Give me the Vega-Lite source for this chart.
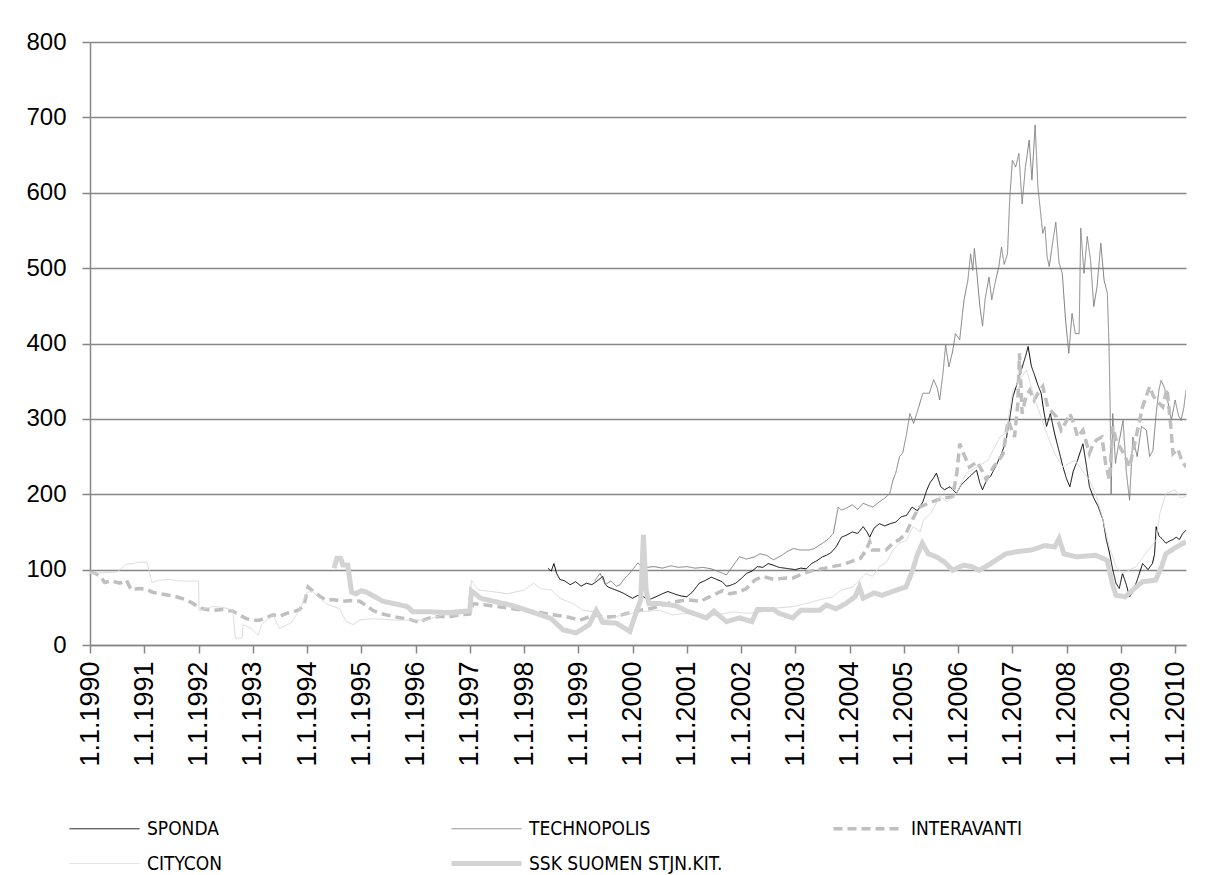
{
"$schema": "https://vega.github.io/schema/vega-lite/v6.json",
"width": 1096, "height": 603,
"autosize": "none",
"padding": {"left": 90, "top": 42, "right": 26, "bottom": 230},
"background": "white",
"config": {"view": {"stroke": null}, "font": "Liberation Sans"},
"data": {"values": [
{"s":"SPONDA","t":1998.44,"v":102},{"s":"SPONDA","t":1998.5,"v":98},{"s":"SPONDA","t":1998.55,"v":108},{"s":"SPONDA","t":1998.6,"v":95},{"s":"SPONDA","t":1998.66,"v":87},{"s":"SPONDA","t":1998.75,"v":85},{"s":"SPONDA","t":1998.85,"v":80},{"s":"SPONDA","t":1998.95,"v":84},{"s":"SPONDA","t":1999.05,"v":78},{"s":"SPONDA","t":1999.15,"v":82},{"s":"SPONDA","t":1999.25,"v":80},{"s":"SPONDA","t":1999.33,"v":84},{"s":"SPONDA","t":1999.4,"v":88},{"s":"SPONDA","t":1999.45,"v":91},{"s":"SPONDA","t":1999.5,"v":80},{"s":"SPONDA","t":1999.55,"v":77},{"s":"SPONDA","t":1999.65,"v":74},{"s":"SPONDA","t":1999.76,"v":71},{"s":"SPONDA","t":1999.85,"v":68},{"s":"SPONDA","t":1999.92,"v":65},{"s":"SPONDA","t":2000.0,"v":62},{"s":"SPONDA","t":2000.1,"v":66},{"s":"SPONDA","t":2000.2,"v":64},{"s":"SPONDA","t":2000.3,"v":60},{"s":"SPONDA","t":2000.43,"v":64},{"s":"SPONDA","t":2000.55,"v":68},{"s":"SPONDA","t":2000.65,"v":71},{"s":"SPONDA","t":2000.8,"v":67},{"s":"SPONDA","t":2000.9,"v":65},{"s":"SPONDA","t":2001.0,"v":64},{"s":"SPONDA","t":2001.1,"v":70},{"s":"SPONDA","t":2001.23,"v":82},{"s":"SPONDA","t":2001.35,"v":86},{"s":"SPONDA","t":2001.45,"v":90},{"s":"SPONDA","t":2001.55,"v":87},{"s":"SPONDA","t":2001.65,"v":84},{"s":"SPONDA","t":2001.73,"v":78},{"s":"SPONDA","t":2001.8,"v":79},{"s":"SPONDA","t":2001.9,"v":82},{"s":"SPONDA","t":2002.0,"v":88},{"s":"SPONDA","t":2002.1,"v":95},{"s":"SPONDA","t":2002.2,"v":98},{"s":"SPONDA","t":2002.3,"v":104},{"s":"SPONDA","t":2002.4,"v":103},{"s":"SPONDA","t":2002.5,"v":108},{"s":"SPONDA","t":2002.59,"v":106},{"s":"SPONDA","t":2002.7,"v":103},{"s":"SPONDA","t":2002.8,"v":102},{"s":"SPONDA","t":2002.9,"v":101},{"s":"SPONDA","t":2003.0,"v":100},{"s":"SPONDA","t":2003.1,"v":102},{"s":"SPONDA","t":2003.2,"v":101},{"s":"SPONDA","t":2003.3,"v":108},{"s":"SPONDA","t":2003.4,"v":112},{"s":"SPONDA","t":2003.5,"v":117},{"s":"SPONDA","t":2003.57,"v":119},{"s":"SPONDA","t":2003.65,"v":122},{"s":"SPONDA","t":2003.75,"v":130},{"s":"SPONDA","t":2003.85,"v":143},{"s":"SPONDA","t":2003.95,"v":146},{"s":"SPONDA","t":2004.05,"v":150},{"s":"SPONDA","t":2004.15,"v":148},{"s":"SPONDA","t":2004.25,"v":157},{"s":"SPONDA","t":2004.32,"v":150},{"s":"SPONDA","t":2004.37,"v":143},{"s":"SPONDA","t":2004.45,"v":155},{"s":"SPONDA","t":2004.55,"v":161},{"s":"SPONDA","t":2004.65,"v":158},{"s":"SPONDA","t":2004.75,"v":161},{"s":"SPONDA","t":2004.85,"v":163},{"s":"SPONDA","t":2004.95,"v":170},{"s":"SPONDA","t":2005.05,"v":172},{"s":"SPONDA","t":2005.15,"v":183},{"s":"SPONDA","t":2005.25,"v":178},{"s":"SPONDA","t":2005.35,"v":190},{"s":"SPONDA","t":2005.42,"v":205},{"s":"SPONDA","t":2005.48,"v":215},{"s":"SPONDA","t":2005.55,"v":222},{"s":"SPONDA","t":2005.6,"v":228},{"s":"SPONDA","t":2005.68,"v":210},{"s":"SPONDA","t":2005.75,"v":206},{"s":"SPONDA","t":2005.85,"v":210},{"s":"SPONDA","t":2005.97,"v":201},{"s":"SPONDA","t":2006.05,"v":212},{"s":"SPONDA","t":2006.15,"v":219},{"s":"SPONDA","t":2006.25,"v":226},{"s":"SPONDA","t":2006.34,"v":232},{"s":"SPONDA","t":2006.4,"v":215},{"s":"SPONDA","t":2006.45,"v":206},{"s":"SPONDA","t":2006.52,"v":218},{"s":"SPONDA","t":2006.6,"v":224},{"s":"SPONDA","t":2006.7,"v":238},{"s":"SPONDA","t":2006.8,"v":254},{"s":"SPONDA","t":2006.88,"v":270},{"s":"SPONDA","t":2006.95,"v":300},{"s":"SPONDA","t":2007.01,"v":329},{"s":"SPONDA","t":2007.1,"v":350},{"s":"SPONDA","t":2007.2,"v":373},{"s":"SPONDA","t":2007.25,"v":385},{"s":"SPONDA","t":2007.29,"v":396},{"s":"SPONDA","t":2007.35,"v":370},{"s":"SPONDA","t":2007.4,"v":360},{"s":"SPONDA","t":2007.47,"v":345},{"s":"SPONDA","t":2007.53,"v":334},{"s":"SPONDA","t":2007.58,"v":310},{"s":"SPONDA","t":2007.63,"v":290},{"s":"SPONDA","t":2007.7,"v":307},{"s":"SPONDA","t":2007.78,"v":280},{"s":"SPONDA","t":2007.85,"v":260},{"s":"SPONDA","t":2007.93,"v":237},{"s":"SPONDA","t":2008.0,"v":220},{"s":"SPONDA","t":2008.06,"v":210},{"s":"SPONDA","t":2008.12,"v":230},{"s":"SPONDA","t":2008.2,"v":245},{"s":"SPONDA","t":2008.3,"v":267},{"s":"SPONDA","t":2008.36,"v":240},{"s":"SPONDA","t":2008.42,"v":210},{"s":"SPONDA","t":2008.5,"v":195},{"s":"SPONDA","t":2008.58,"v":184},{"s":"SPONDA","t":2008.67,"v":166},{"s":"SPONDA","t":2008.73,"v":140},{"s":"SPONDA","t":2008.79,"v":122},{"s":"SPONDA","t":2008.85,"v":100},{"s":"SPONDA","t":2008.91,"v":82},{"s":"SPONDA","t":2008.97,"v":75},{"s":"SPONDA","t":2009.03,"v":95},{"s":"SPONDA","t":2009.1,"v":80},{"s":"SPONDA","t":2009.16,"v":64},{"s":"SPONDA","t":2009.22,"v":70},{"s":"SPONDA","t":2009.3,"v":86},{"s":"SPONDA","t":2009.4,"v":108},{"s":"SPONDA","t":2009.5,"v":100},{"s":"SPONDA","t":2009.58,"v":108},{"s":"SPONDA","t":2009.62,"v":120},{"s":"SPONDA","t":2009.65,"v":157},{"s":"SPONDA","t":2009.7,"v":145},{"s":"SPONDA","t":2009.77,"v":140},{"s":"SPONDA","t":2009.83,"v":135},{"s":"SPONDA","t":2009.9,"v":138},{"s":"SPONDA","t":2009.96,"v":140},{"s":"SPONDA","t":2010.02,"v":143},{"s":"SPONDA","t":2010.08,"v":140},{"s":"SPONDA","t":2010.14,"v":148},{"s":"SPONDA","t":2010.2,"v":152},
{"s":"TECHNOPOLIS","t":1999.3,"v":85},{"s":"TECHNOPOLIS","t":1999.4,"v":95},{"s":"TECHNOPOLIS","t":1999.5,"v":80},{"s":"TECHNOPOLIS","t":1999.6,"v":85},{"s":"TECHNOPOLIS","t":1999.7,"v":78},{"s":"TECHNOPOLIS","t":1999.77,"v":80},{"s":"TECHNOPOLIS","t":1999.85,"v":88},{"s":"TECHNOPOLIS","t":1999.92,"v":93},{"s":"TECHNOPOLIS","t":2000.0,"v":100},{"s":"TECHNOPOLIS","t":2000.1,"v":109},{"s":"TECHNOPOLIS","t":2000.15,"v":105},{"s":"TECHNOPOLIS","t":2000.25,"v":103},{"s":"TECHNOPOLIS","t":2000.4,"v":104},{"s":"TECHNOPOLIS","t":2000.55,"v":102},{"s":"TECHNOPOLIS","t":2000.7,"v":105},{"s":"TECHNOPOLIS","t":2000.85,"v":103},{"s":"TECHNOPOLIS","t":2001.0,"v":104},{"s":"TECHNOPOLIS","t":2001.15,"v":102},{"s":"TECHNOPOLIS","t":2001.3,"v":103},{"s":"TECHNOPOLIS","t":2001.45,"v":101},{"s":"TECHNOPOLIS","t":2001.6,"v":97},{"s":"TECHNOPOLIS","t":2001.73,"v":93},{"s":"TECHNOPOLIS","t":2001.85,"v":105},{"s":"TECHNOPOLIS","t":2001.97,"v":117},{"s":"TECHNOPOLIS","t":2002.1,"v":114},{"s":"TECHNOPOLIS","t":2002.25,"v":117},{"s":"TECHNOPOLIS","t":2002.35,"v":121},{"s":"TECHNOPOLIS","t":2002.47,"v":119},{"s":"TECHNOPOLIS","t":2002.6,"v":113},{"s":"TECHNOPOLIS","t":2002.75,"v":119},{"s":"TECHNOPOLIS","t":2002.85,"v":124},{"s":"TECHNOPOLIS","t":2002.96,"v":128},{"s":"TECHNOPOLIS","t":2003.1,"v":126},{"s":"TECHNOPOLIS","t":2003.25,"v":126},{"s":"TECHNOPOLIS","t":2003.35,"v":128},{"s":"TECHNOPOLIS","t":2003.5,"v":135},{"s":"TECHNOPOLIS","t":2003.6,"v":140},{"s":"TECHNOPOLIS","t":2003.7,"v":148},{"s":"TECHNOPOLIS","t":2003.79,"v":183},{"s":"TECHNOPOLIS","t":2003.85,"v":179},{"s":"TECHNOPOLIS","t":2003.95,"v":182},{"s":"TECHNOPOLIS","t":2004.05,"v":186},{"s":"TECHNOPOLIS","t":2004.15,"v":180},{"s":"TECHNOPOLIS","t":2004.25,"v":188},{"s":"TECHNOPOLIS","t":2004.35,"v":185},{"s":"TECHNOPOLIS","t":2004.43,"v":183},{"s":"TECHNOPOLIS","t":2004.55,"v":190},{"s":"TECHNOPOLIS","t":2004.65,"v":195},{"s":"TECHNOPOLIS","t":2004.74,"v":201},{"s":"TECHNOPOLIS","t":2004.8,"v":219},{"s":"TECHNOPOLIS","t":2004.85,"v":228},{"s":"TECHNOPOLIS","t":2004.92,"v":250},{"s":"TECHNOPOLIS","t":2004.98,"v":255},{"s":"TECHNOPOLIS","t":2005.05,"v":280},{"s":"TECHNOPOLIS","t":2005.11,"v":307},{"s":"TECHNOPOLIS","t":2005.18,"v":294},{"s":"TECHNOPOLIS","t":2005.25,"v":310},{"s":"TECHNOPOLIS","t":2005.35,"v":334},{"s":"TECHNOPOLIS","t":2005.47,"v":334},{"s":"TECHNOPOLIS","t":2005.55,"v":352},{"s":"TECHNOPOLIS","t":2005.62,"v":340},{"s":"TECHNOPOLIS","t":2005.66,"v":325},{"s":"TECHNOPOLIS","t":2005.72,"v":360},{"s":"TECHNOPOLIS","t":2005.77,"v":398},{"s":"TECHNOPOLIS","t":2005.83,"v":369},{"s":"TECHNOPOLIS","t":2005.9,"v":390},{"s":"TECHNOPOLIS","t":2005.95,"v":413},{"s":"TECHNOPOLIS","t":2006.03,"v":405},{"s":"TECHNOPOLIS","t":2006.08,"v":440},{"s":"TECHNOPOLIS","t":2006.11,"v":458},{"s":"TECHNOPOLIS","t":2006.18,"v":484},{"s":"TECHNOPOLIS","t":2006.23,"v":519},{"s":"TECHNOPOLIS","t":2006.27,"v":497},{"s":"TECHNOPOLIS","t":2006.3,"v":526},{"s":"TECHNOPOLIS","t":2006.35,"v":490},{"s":"TECHNOPOLIS","t":2006.4,"v":450},{"s":"TECHNOPOLIS","t":2006.45,"v":423},{"s":"TECHNOPOLIS","t":2006.5,"v":460},{"s":"TECHNOPOLIS","t":2006.57,"v":488},{"s":"TECHNOPOLIS","t":2006.62,"v":458},{"s":"TECHNOPOLIS","t":2006.68,"v":480},{"s":"TECHNOPOLIS","t":2006.75,"v":502},{"s":"TECHNOPOLIS","t":2006.8,"v":528},{"s":"TECHNOPOLIS","t":2006.85,"v":505},{"s":"TECHNOPOLIS","t":2006.91,"v":519},{"s":"TECHNOPOLIS","t":2006.95,"v":590},{"s":"TECHNOPOLIS","t":2007.0,"v":643},{"s":"TECHNOPOLIS","t":2007.06,"v":634},{"s":"TECHNOPOLIS","t":2007.12,"v":652},{"s":"TECHNOPOLIS","t":2007.18,"v":585},{"s":"TECHNOPOLIS","t":2007.24,"v":634},{"s":"TECHNOPOLIS","t":2007.31,"v":670},{"s":"TECHNOPOLIS","t":2007.36,"v":617},{"s":"TECHNOPOLIS","t":2007.42,"v":690},{"s":"TECHNOPOLIS","t":2007.47,"v":608},{"s":"TECHNOPOLIS","t":2007.56,"v":546},{"s":"TECHNOPOLIS","t":2007.6,"v":555},{"s":"TECHNOPOLIS","t":2007.64,"v":515},{"s":"TECHNOPOLIS","t":2007.68,"v":502},{"s":"TECHNOPOLIS","t":2007.74,"v":533},{"s":"TECHNOPOLIS","t":2007.8,"v":561},{"s":"TECHNOPOLIS","t":2007.86,"v":507},{"s":"TECHNOPOLIS","t":2007.92,"v":493},{"s":"TECHNOPOLIS","t":2007.98,"v":431},{"s":"TECHNOPOLIS","t":2008.04,"v":387},{"s":"TECHNOPOLIS","t":2008.1,"v":440},{"s":"TECHNOPOLIS","t":2008.16,"v":413},{"s":"TECHNOPOLIS","t":2008.23,"v":413},{"s":"TECHNOPOLIS","t":2008.26,"v":553},{"s":"TECHNOPOLIS","t":2008.32,"v":493},{"s":"TECHNOPOLIS","t":2008.38,"v":542},{"s":"TECHNOPOLIS","t":2008.44,"v":511},{"s":"TECHNOPOLIS","t":2008.5,"v":449},{"s":"TECHNOPOLIS","t":2008.56,"v":475},{"s":"TECHNOPOLIS","t":2008.63,"v":533},{"s":"TECHNOPOLIS","t":2008.69,"v":484},{"s":"TECHNOPOLIS","t":2008.75,"v":467},{"s":"TECHNOPOLIS","t":2008.78,"v":400},{"s":"TECHNOPOLIS","t":2008.8,"v":325},{"s":"TECHNOPOLIS","t":2008.82,"v":200},{"s":"TECHNOPOLIS","t":2008.85,"v":307},{"s":"TECHNOPOLIS","t":2008.9,"v":241},{"s":"TECHNOPOLIS","t":2008.95,"v":263},{"s":"TECHNOPOLIS","t":2009.04,"v":298},{"s":"TECHNOPOLIS","t":2009.1,"v":230},{"s":"TECHNOPOLIS","t":2009.16,"v":192},{"s":"TECHNOPOLIS","t":2009.22,"v":276},{"s":"TECHNOPOLIS","t":2009.3,"v":250},{"s":"TECHNOPOLIS","t":2009.38,"v":290},{"s":"TECHNOPOLIS","t":2009.47,"v":285},{"s":"TECHNOPOLIS","t":2009.53,"v":250},{"s":"TECHNOPOLIS","t":2009.59,"v":258},{"s":"TECHNOPOLIS","t":2009.65,"v":307},{"s":"TECHNOPOLIS","t":2009.7,"v":338},{"s":"TECHNOPOLIS","t":2009.74,"v":351},{"s":"TECHNOPOLIS","t":2009.8,"v":342},{"s":"TECHNOPOLIS","t":2009.86,"v":325},{"s":"TECHNOPOLIS","t":2009.93,"v":298},{"s":"TECHNOPOLIS","t":2010.0,"v":325},{"s":"TECHNOPOLIS","t":2010.06,"v":305},{"s":"TECHNOPOLIS","t":2010.11,"v":298},{"s":"TECHNOPOLIS","t":2010.16,"v":315},{"s":"TECHNOPOLIS","t":2010.2,"v":338},
{"s":"INTERAVANTI","t":1990.0,"v":97},{"s":"INTERAVANTI","t":1990.1,"v":95},{"s":"INTERAVANTI","t":1990.2,"v":90},{"s":"INTERAVANTI","t":1990.27,"v":83},{"s":"INTERAVANTI","t":1990.4,"v":85},{"s":"INTERAVANTI","t":1990.55,"v":82},{"s":"INTERAVANTI","t":1990.67,"v":86},{"s":"INTERAVANTI","t":1990.76,"v":73},{"s":"INTERAVANTI","t":1990.9,"v":75},{"s":"INTERAVANTI","t":1991.04,"v":74},{"s":"INTERAVANTI","t":1991.15,"v":70},{"s":"INTERAVANTI","t":1991.28,"v":68},{"s":"INTERAVANTI","t":1991.45,"v":66},{"s":"INTERAVANTI","t":1991.59,"v":64},{"s":"INTERAVANTI","t":1991.77,"v":60},{"s":"INTERAVANTI","t":1991.9,"v":55},{"s":"INTERAVANTI","t":1992.02,"v":49},{"s":"INTERAVANTI","t":1992.15,"v":47},{"s":"INTERAVANTI","t":1992.26,"v":46},{"s":"INTERAVANTI","t":1992.45,"v":47},{"s":"INTERAVANTI","t":1992.63,"v":45},{"s":"INTERAVANTI","t":1992.75,"v":40},{"s":"INTERAVANTI","t":1992.88,"v":35},{"s":"INTERAVANTI","t":1993.0,"v":33},{"s":"INTERAVANTI","t":1993.12,"v":33},{"s":"INTERAVANTI","t":1993.25,"v":36},{"s":"INTERAVANTI","t":1993.37,"v":40},{"s":"INTERAVANTI","t":1993.5,"v":38},{"s":"INTERAVANTI","t":1993.62,"v":42},{"s":"INTERAVANTI","t":1993.75,"v":44},{"s":"INTERAVANTI","t":1993.86,"v":47},{"s":"INTERAVANTI","t":1993.95,"v":55},{"s":"INTERAVANTI","t":1994.02,"v":77},{"s":"INTERAVANTI","t":1994.1,"v":72},{"s":"INTERAVANTI","t":1994.17,"v":68},{"s":"INTERAVANTI","t":1994.25,"v":64},{"s":"INTERAVANTI","t":1994.35,"v":60},{"s":"INTERAVANTI","t":1994.5,"v":60},{"s":"INTERAVANTI","t":1994.66,"v":58},{"s":"INTERAVANTI","t":1994.8,"v":59},{"s":"INTERAVANTI","t":1994.97,"v":58},{"s":"INTERAVANTI","t":1995.1,"v":52},{"s":"INTERAVANTI","t":1995.21,"v":46},{"s":"INTERAVANTI","t":1995.35,"v":42},{"s":"INTERAVANTI","t":1995.46,"v":40},{"s":"INTERAVANTI","t":1995.65,"v":37},{"s":"INTERAVANTI","t":1995.89,"v":34},{"s":"INTERAVANTI","t":1996.07,"v":30},{"s":"INTERAVANTI","t":1996.15,"v":33},{"s":"INTERAVANTI","t":1996.26,"v":36},{"s":"INTERAVANTI","t":1996.45,"v":38},{"s":"INTERAVANTI","t":1996.6,"v":37},{"s":"INTERAVANTI","t":1996.81,"v":40},{"s":"INTERAVANTI","t":1997.0,"v":41},{"s":"INTERAVANTI","t":1997.06,"v":55},{"s":"INTERAVANTI","t":1997.3,"v":53},{"s":"INTERAVANTI","t":1997.5,"v":51},{"s":"INTERAVANTI","t":1997.7,"v":49},{"s":"INTERAVANTI","t":1998.0,"v":46},{"s":"INTERAVANTI","t":1998.25,"v":44},{"s":"INTERAVANTI","t":1998.53,"v":40},{"s":"INTERAVANTI","t":1998.75,"v":38},{"s":"INTERAVANTI","t":1999.03,"v":33},{"s":"INTERAVANTI","t":1999.3,"v":40},{"s":"INTERAVANTI","t":1999.5,"v":37},{"s":"INTERAVANTI","t":1999.7,"v":38},{"s":"INTERAVANTI","t":2000.0,"v":44},{"s":"INTERAVANTI","t":2000.37,"v":49},{"s":"INTERAVANTI","t":2000.74,"v":57},{"s":"INTERAVANTI","t":2001.0,"v":60},{"s":"INTERAVANTI","t":2001.25,"v":58},{"s":"INTERAVANTI","t":2001.48,"v":66},{"s":"INTERAVANTI","t":2001.66,"v":72},{"s":"INTERAVANTI","t":2001.79,"v":68},{"s":"INTERAVANTI","t":2001.95,"v":70},{"s":"INTERAVANTI","t":2002.1,"v":75},{"s":"INTERAVANTI","t":2002.25,"v":86},{"s":"INTERAVANTI","t":2002.4,"v":91},{"s":"INTERAVANTI","t":2002.6,"v":87},{"s":"INTERAVANTI","t":2002.83,"v":89},{"s":"INTERAVANTI","t":2002.96,"v":89},{"s":"INTERAVANTI","t":2003.15,"v":95},{"s":"INTERAVANTI","t":2003.33,"v":99},{"s":"INTERAVANTI","t":2003.55,"v":102},{"s":"INTERAVANTI","t":2003.82,"v":106},{"s":"INTERAVANTI","t":2004.0,"v":110},{"s":"INTERAVANTI","t":2004.2,"v":115},{"s":"INTERAVANTI","t":2004.3,"v":125},{"s":"INTERAVANTI","t":2004.37,"v":137},{"s":"INTERAVANTI","t":2004.42,"v":126},{"s":"INTERAVANTI","t":2004.67,"v":126},{"s":"INTERAVANTI","t":2004.8,"v":135},{"s":"INTERAVANTI","t":2004.92,"v":140},{"s":"INTERAVANTI","t":2005.04,"v":148},{"s":"INTERAVANTI","t":2005.15,"v":165},{"s":"INTERAVANTI","t":2005.22,"v":175},{"s":"INTERAVANTI","t":2005.29,"v":183},{"s":"INTERAVANTI","t":2005.45,"v":188},{"s":"INTERAVANTI","t":2005.6,"v":192},{"s":"INTERAVANTI","t":2005.75,"v":195},{"s":"INTERAVANTI","t":2005.9,"v":197},{"s":"INTERAVANTI","t":2005.98,"v":230},{"s":"INTERAVANTI","t":2006.03,"v":267},{"s":"INTERAVANTI","t":2006.1,"v":254},{"s":"INTERAVANTI","t":2006.21,"v":236},{"s":"INTERAVANTI","t":2006.35,"v":243},{"s":"INTERAVANTI","t":2006.45,"v":230},{"s":"INTERAVANTI","t":2006.52,"v":219},{"s":"INTERAVANTI","t":2006.65,"v":236},{"s":"INTERAVANTI","t":2006.75,"v":245},{"s":"INTERAVANTI","t":2006.83,"v":254},{"s":"INTERAVANTI","t":2006.92,"v":298},{"s":"INTERAVANTI","t":2007.04,"v":276},{"s":"INTERAVANTI","t":2007.1,"v":320},{"s":"INTERAVANTI","t":2007.13,"v":387},{"s":"INTERAVANTI","t":2007.18,"v":307},{"s":"INTERAVANTI","t":2007.25,"v":330},{"s":"INTERAVANTI","t":2007.32,"v":338},{"s":"INTERAVANTI","t":2007.4,"v":325},{"s":"INTERAVANTI","t":2007.48,"v":335},{"s":"INTERAVANTI","t":2007.56,"v":343},{"s":"INTERAVANTI","t":2007.65,"v":316},{"s":"INTERAVANTI","t":2007.72,"v":310},{"s":"INTERAVANTI","t":2007.81,"v":303},{"s":"INTERAVANTI","t":2007.9,"v":285},{"s":"INTERAVANTI","t":2007.98,"v":295},{"s":"INTERAVANTI","t":2008.06,"v":307},{"s":"INTERAVANTI","t":2008.15,"v":290},{"s":"INTERAVANTI","t":2008.2,"v":276},{"s":"INTERAVANTI","t":2008.3,"v":285},{"s":"INTERAVANTI","t":2008.42,"v":254},{"s":"INTERAVANTI","t":2008.48,"v":265},{"s":"INTERAVANTI","t":2008.55,"v":272},{"s":"INTERAVANTI","t":2008.65,"v":276},{"s":"INTERAVANTI","t":2008.72,"v":240},{"s":"INTERAVANTI","t":2008.79,"v":219},{"s":"INTERAVANTI","t":2008.85,"v":290},{"s":"INTERAVANTI","t":2008.92,"v":270},{"s":"INTERAVANTI","t":2008.98,"v":263},{"s":"INTERAVANTI","t":2009.08,"v":250},{"s":"INTERAVANTI","t":2009.16,"v":236},{"s":"INTERAVANTI","t":2009.28,"v":276},{"s":"INTERAVANTI","t":2009.4,"v":316},{"s":"INTERAVANTI","t":2009.53,"v":343},{"s":"INTERAVANTI","t":2009.6,"v":330},{"s":"INTERAVANTI","t":2009.65,"v":325},{"s":"INTERAVANTI","t":2009.77,"v":316},{"s":"INTERAVANTI","t":2009.85,"v":340},{"s":"INTERAVANTI","t":2009.92,"v":290},{"s":"INTERAVANTI","t":2009.96,"v":254},{"s":"INTERAVANTI","t":2010.05,"v":260},{"s":"INTERAVANTI","t":2010.12,"v":245},{"s":"INTERAVANTI","t":2010.2,"v":236},
{"s":"CITYCON","t":1990.0,"v":95},{"s":"CITYCON","t":1990.3,"v":96},{"s":"CITYCON","t":1990.5,"v":97},{"s":"CITYCON","t":1990.67,"v":107},{"s":"CITYCON","t":1990.8,"v":108},{"s":"CITYCON","t":1990.9,"v":110},{"s":"CITYCON","t":1991.05,"v":110},{"s":"CITYCON","t":1991.14,"v":83},{"s":"CITYCON","t":1991.28,"v":86},{"s":"CITYCON","t":1991.45,"v":87},{"s":"CITYCON","t":1991.65,"v":85},{"s":"CITYCON","t":1991.85,"v":85},{"s":"CITYCON","t":1992.0,"v":85},{"s":"CITYCON","t":1992.01,"v":46},{"s":"CITYCON","t":1992.26,"v":51},{"s":"CITYCON","t":1992.45,"v":50},{"s":"CITYCON","t":1992.63,"v":46},{"s":"CITYCON","t":1992.68,"v":9},{"s":"CITYCON","t":1992.8,"v":9},{"s":"CITYCON","t":1992.82,"v":27},{"s":"CITYCON","t":1992.97,"v":22},{"s":"CITYCON","t":1993.1,"v":13},{"s":"CITYCON","t":1993.16,"v":27},{"s":"CITYCON","t":1993.37,"v":40},{"s":"CITYCON","t":1993.49,"v":22},{"s":"CITYCON","t":1993.7,"v":29},{"s":"CITYCON","t":1993.86,"v":46},{"s":"CITYCON","t":1994.0,"v":70},{"s":"CITYCON","t":1994.1,"v":71},{"s":"CITYCON","t":1994.35,"v":55},{"s":"CITYCON","t":1994.6,"v":48},{"s":"CITYCON","t":1994.72,"v":31},{"s":"CITYCON","t":1994.85,"v":27},{"s":"CITYCON","t":1994.97,"v":33},{"s":"CITYCON","t":1995.21,"v":35},{"s":"CITYCON","t":1995.6,"v":33},{"s":"CITYCON","t":1996.2,"v":33},{"s":"CITYCON","t":1996.5,"v":40},{"s":"CITYCON","t":1996.81,"v":40},{"s":"CITYCON","t":1997.0,"v":49},{"s":"CITYCON","t":1997.03,"v":86},{"s":"CITYCON","t":1997.15,"v":73},{"s":"CITYCON","t":1997.4,"v":71},{"s":"CITYCON","t":1997.7,"v":68},{"s":"CITYCON","t":1998.0,"v":73},{"s":"CITYCON","t":1998.18,"v":82},{"s":"CITYCON","t":1998.3,"v":75},{"s":"CITYCON","t":1998.5,"v":73},{"s":"CITYCON","t":1998.66,"v":62},{"s":"CITYCON","t":1998.9,"v":55},{"s":"CITYCON","t":1999.09,"v":46},{"s":"CITYCON","t":1999.3,"v":44},{"s":"CITYCON","t":1999.52,"v":33},{"s":"CITYCON","t":1999.8,"v":40},{"s":"CITYCON","t":2000.13,"v":44},{"s":"CITYCON","t":2000.5,"v":46},{"s":"CITYCON","t":2000.74,"v":40},{"s":"CITYCON","t":2001.0,"v":42},{"s":"CITYCON","t":2001.4,"v":38},{"s":"CITYCON","t":2001.85,"v":44},{"s":"CITYCON","t":2002.1,"v":42},{"s":"CITYCON","t":2002.4,"v":44},{"s":"CITYCON","t":2002.65,"v":49},{"s":"CITYCON","t":2002.96,"v":51},{"s":"CITYCON","t":2003.2,"v":55},{"s":"CITYCON","t":2003.45,"v":60},{"s":"CITYCON","t":2003.69,"v":64},{"s":"CITYCON","t":2003.85,"v":73},{"s":"CITYCON","t":2004.06,"v":77},{"s":"CITYCON","t":2004.18,"v":86},{"s":"CITYCON","t":2004.3,"v":95},{"s":"CITYCON","t":2004.42,"v":91},{"s":"CITYCON","t":2004.55,"v":104},{"s":"CITYCON","t":2004.67,"v":109},{"s":"CITYCON","t":2004.8,"v":126},{"s":"CITYCON","t":2004.92,"v":135},{"s":"CITYCON","t":2005.05,"v":139},{"s":"CITYCON","t":2005.17,"v":157},{"s":"CITYCON","t":2005.3,"v":150},{"s":"CITYCON","t":2005.36,"v":166},{"s":"CITYCON","t":2005.5,"v":175},{"s":"CITYCON","t":2005.66,"v":197},{"s":"CITYCON","t":2005.8,"v":190},{"s":"CITYCON","t":2005.97,"v":201},{"s":"CITYCON","t":2006.15,"v":228},{"s":"CITYCON","t":2006.34,"v":236},{"s":"CITYCON","t":2006.55,"v":245},{"s":"CITYCON","t":2006.77,"v":276},{"s":"CITYCON","t":2006.88,"v":281},{"s":"CITYCON","t":2007.01,"v":338},{"s":"CITYCON","t":2007.13,"v":351},{"s":"CITYCON","t":2007.26,"v":365},{"s":"CITYCON","t":2007.4,"v":329},{"s":"CITYCON","t":2007.63,"v":281},{"s":"CITYCON","t":2007.78,"v":254},{"s":"CITYCON","t":2007.93,"v":236},{"s":"CITYCON","t":2008.15,"v":245},{"s":"CITYCON","t":2008.42,"v":219},{"s":"CITYCON","t":2008.55,"v":197},{"s":"CITYCON","t":2008.67,"v":166},{"s":"CITYCON","t":2008.79,"v":130},{"s":"CITYCON","t":2008.91,"v":104},{"s":"CITYCON","t":2009.03,"v":95},{"s":"CITYCON","t":2009.28,"v":104},{"s":"CITYCON","t":2009.45,"v":121},{"s":"CITYCON","t":2009.65,"v":139},{"s":"CITYCON","t":2009.72,"v":175},{"s":"CITYCON","t":2009.83,"v":201},{"s":"CITYCON","t":2010.0,"v":206},{"s":"CITYCON","t":2010.1,"v":195},{"s":"CITYCON","t":2010.2,"v":197},
{"s":"SSK SUOMEN STJN.KIT.","t":1994.5,"v":102},{"s":"SSK SUOMEN STJN.KIT.","t":1994.55,"v":115},{"s":"SSK SUOMEN STJN.KIT.","t":1994.62,"v":115},{"s":"SSK SUOMEN STJN.KIT.","t":1994.66,"v":106},{"s":"SSK SUOMEN STJN.KIT.","t":1994.75,"v":106},{"s":"SSK SUOMEN STJN.KIT.","t":1994.82,"v":70},{"s":"SSK SUOMEN STJN.KIT.","t":1994.9,"v":68},{"s":"SSK SUOMEN STJN.KIT.","t":1995.0,"v":72},{"s":"SSK SUOMEN STJN.KIT.","t":1995.1,"v":70},{"s":"SSK SUOMEN STJN.KIT.","t":1995.2,"v":66},{"s":"SSK SUOMEN STJN.KIT.","t":1995.3,"v":62},{"s":"SSK SUOMEN STJN.KIT.","t":1995.4,"v":58},{"s":"SSK SUOMEN STJN.KIT.","t":1995.6,"v":55},{"s":"SSK SUOMEN STJN.KIT.","t":1995.85,"v":51},{"s":"SSK SUOMEN STJN.KIT.","t":1995.95,"v":44},{"s":"SSK SUOMEN STJN.KIT.","t":1996.3,"v":44},{"s":"SSK SUOMEN STJN.KIT.","t":1996.6,"v":43},{"s":"SSK SUOMEN STJN.KIT.","t":1996.95,"v":45},{"s":"SSK SUOMEN STJN.KIT.","t":1997.0,"v":45},{"s":"SSK SUOMEN STJN.KIT.","t":1997.03,"v":72},{"s":"SSK SUOMEN STJN.KIT.","t":1997.2,"v":62},{"s":"SSK SUOMEN STJN.KIT.","t":1997.5,"v":57},{"s":"SSK SUOMEN STJN.KIT.","t":1997.75,"v":53},{"s":"SSK SUOMEN STJN.KIT.","t":1998.06,"v":46},{"s":"SSK SUOMEN STJN.KIT.","t":1998.3,"v":40},{"s":"SSK SUOMEN STJN.KIT.","t":1998.5,"v":35},{"s":"SSK SUOMEN STJN.KIT.","t":1998.72,"v":20},{"s":"SSK SUOMEN STJN.KIT.","t":1998.96,"v":16},{"s":"SSK SUOMEN STJN.KIT.","t":1999.2,"v":27},{"s":"SSK SUOMEN STJN.KIT.","t":1999.33,"v":46},{"s":"SSK SUOMEN STJN.KIT.","t":1999.45,"v":30},{"s":"SSK SUOMEN STJN.KIT.","t":1999.7,"v":29},{"s":"SSK SUOMEN STJN.KIT.","t":1999.95,"v":18},{"s":"SSK SUOMEN STJN.KIT.","t":2000.05,"v":40},{"s":"SSK SUOMEN STJN.KIT.","t":2000.15,"v":60},{"s":"SSK SUOMEN STJN.KIT.","t":2000.2,"v":146},{"s":"SSK SUOMEN STJN.KIT.","t":2000.25,"v":73},{"s":"SSK SUOMEN STJN.KIT.","t":2000.3,"v":55},{"s":"SSK SUOMEN STJN.KIT.","t":2000.5,"v":55},{"s":"SSK SUOMEN STJN.KIT.","t":2000.8,"v":52},{"s":"SSK SUOMEN STJN.KIT.","t":2001.0,"v":45},{"s":"SSK SUOMEN STJN.KIT.","t":2001.2,"v":40},{"s":"SSK SUOMEN STJN.KIT.","t":2001.36,"v":36},{"s":"SSK SUOMEN STJN.KIT.","t":2001.5,"v":45},{"s":"SSK SUOMEN STJN.KIT.","t":2001.73,"v":31},{"s":"SSK SUOMEN STJN.KIT.","t":2001.97,"v":36},{"s":"SSK SUOMEN STJN.KIT.","t":2002.2,"v":31},{"s":"SSK SUOMEN STJN.KIT.","t":2002.3,"v":47},{"s":"SSK SUOMEN STJN.KIT.","t":2002.6,"v":47},{"s":"SSK SUOMEN STJN.KIT.","t":2002.7,"v":42},{"s":"SSK SUOMEN STJN.KIT.","t":2002.95,"v":36},{"s":"SSK SUOMEN STJN.KIT.","t":2003.1,"v":46},{"s":"SSK SUOMEN STJN.KIT.","t":2003.45,"v":46},{"s":"SSK SUOMEN STJN.KIT.","t":2003.57,"v":53},{"s":"SSK SUOMEN STJN.KIT.","t":2003.75,"v":48},{"s":"SSK SUOMEN STJN.KIT.","t":2003.93,"v":55},{"s":"SSK SUOMEN STJN.KIT.","t":2004.1,"v":64},{"s":"SSK SUOMEN STJN.KIT.","t":2004.18,"v":77},{"s":"SSK SUOMEN STJN.KIT.","t":2004.25,"v":62},{"s":"SSK SUOMEN STJN.KIT.","t":2004.45,"v":69},{"s":"SSK SUOMEN STJN.KIT.","t":2004.6,"v":66},{"s":"SSK SUOMEN STJN.KIT.","t":2004.79,"v":71},{"s":"SSK SUOMEN STJN.KIT.","t":2005.04,"v":77},{"s":"SSK SUOMEN STJN.KIT.","t":2005.16,"v":99},{"s":"SSK SUOMEN STJN.KIT.","t":2005.25,"v":120},{"s":"SSK SUOMEN STJN.KIT.","t":2005.34,"v":135},{"s":"SSK SUOMEN STJN.KIT.","t":2005.45,"v":121},{"s":"SSK SUOMEN STJN.KIT.","t":2005.6,"v":117},{"s":"SSK SUOMEN STJN.KIT.","t":2005.75,"v":110},{"s":"SSK SUOMEN STJN.KIT.","t":2005.9,"v":99},{"s":"SSK SUOMEN STJN.KIT.","t":2006.1,"v":106},{"s":"SSK SUOMEN STJN.KIT.","t":2006.25,"v":104},{"s":"SSK SUOMEN STJN.KIT.","t":2006.39,"v":99},{"s":"SSK SUOMEN STJN.KIT.","t":2006.6,"v":108},{"s":"SSK SUOMEN STJN.KIT.","t":2006.88,"v":121},{"s":"SSK SUOMEN STJN.KIT.","t":2007.1,"v":124},{"s":"SSK SUOMEN STJN.KIT.","t":2007.35,"v":126},{"s":"SSK SUOMEN STJN.KIT.","t":2007.6,"v":132},{"s":"SSK SUOMEN STJN.KIT.","t":2007.78,"v":130},{"s":"SSK SUOMEN STJN.KIT.","t":2007.86,"v":141},{"s":"SSK SUOMEN STJN.KIT.","t":2007.95,"v":121},{"s":"SSK SUOMEN STJN.KIT.","t":2008.18,"v":117},{"s":"SSK SUOMEN STJN.KIT.","t":2008.53,"v":119},{"s":"SSK SUOMEN STJN.KIT.","t":2008.67,"v":115},{"s":"SSK SUOMEN STJN.KIT.","t":2008.75,"v":112},{"s":"SSK SUOMEN STJN.KIT.","t":2008.84,"v":82},{"s":"SSK SUOMEN STJN.KIT.","t":2008.91,"v":66},{"s":"SSK SUOMEN STJN.KIT.","t":2009.08,"v":64},{"s":"SSK SUOMEN STJN.KIT.","t":2009.25,"v":75},{"s":"SSK SUOMEN STJN.KIT.","t":2009.4,"v":84},{"s":"SSK SUOMEN STJN.KIT.","t":2009.64,"v":86},{"s":"SSK SUOMEN STJN.KIT.","t":2009.75,"v":104},{"s":"SSK SUOMEN STJN.KIT.","t":2009.83,"v":121},{"s":"SSK SUOMEN STJN.KIT.","t":2010.0,"v":129},{"s":"SSK SUOMEN STJN.KIT.","t":2010.1,"v":133},{"s":"SSK SUOMEN STJN.KIT.","t":2010.2,"v":137}
]},
"mark": {"type": "line", "clip": true},
"encoding": {
"x": {"field": "t", "type": "quantitative", "scale": {"domain": [1990, 2010.2], "nice": false, "zero": false},
 "axis": {"title": null, "grid": false, "values": [1990,1991,1992,1993,1994,1995,1996,1997,1998,1999,2000,2001,2002,2003,2004,2005,2006,2007,2008,2009,2010],
 "labelExpr": "'1.1.' + datum.value", "labelAngle": 270, "labelAlign": "right", "labelBaseline": "middle", "labelFontSize": 27, "labelColor": "#000000", "labelPadding": 8, "labelFont": "Liberation Sans",
 "domainColor": "#878787", "domainWidth": 1.5, "tickColor": "#878787", "tickWidth": 1.5, "tickSize": 8, "labelFlush": false, "labelOverlap": false}},
"y": {"field": "v", "type": "quantitative", "scale": {"domain": [0, 800], "nice": false},
 "axis": {"title": null, "values": [0,100,200,300,400,500,600,700,800], "grid": true, "gridColor": "#878787", "gridWidth": 1.5,
 "domainColor": "#878787", "domainWidth": 1.5, "tickColor": "#878787", "tickWidth": 1.5, "tickSize": 8, "labelFontSize": 24, "labelColor": "#000000", "labelPadding": 16, "labelFont": "Liberation Sans", "labelFlush": false, "labelOverlap": false}},
"color": {"field": "s", "type": "nominal", "sort": null,
 "scale": {"domain": ["SPONDA","TECHNOPOLIS","INTERAVANTI","CITYCON","SSK SUOMEN STJN.KIT."], "range": ["#000000","#808080","#bfbfbf","#dadada","#d3d3d3"]},
 "legend": {"title": null, "orient": "none", "legendX": 5, "legendY": 777, "direction": "horizontal", "columns": 3, "gridAlign": "all", "columnPadding": 100, "rowPadding": 14,
  "symbolType": "M-7,0H7", "symbolSize": 100, "labelOffset": 33, "labelFont": "DejaVu Sans Condensed", "labelFontSize": 19, "labelColor": "#000000", "labelLimit": 400}},
"strokeWidth": {"field": "s", "type": "nominal",
 "scale": {"type": "ordinal", "domain": ["SPONDA","TECHNOPOLIS","INTERAVANTI","CITYCON","SSK SUOMEN STJN.KIT."], "range": [1, 1, 3.5, 1, 5]}},
"strokeDash": {"field": "s", "type": "nominal",
 "scale": {"domain": ["SPONDA","TECHNOPOLIS","INTERAVANTI","CITYCON","SSK SUOMEN STJN.KIT."], "range": [[1,0],[1,0],[9,5],[1,0],[1,0]]}}
}
}
